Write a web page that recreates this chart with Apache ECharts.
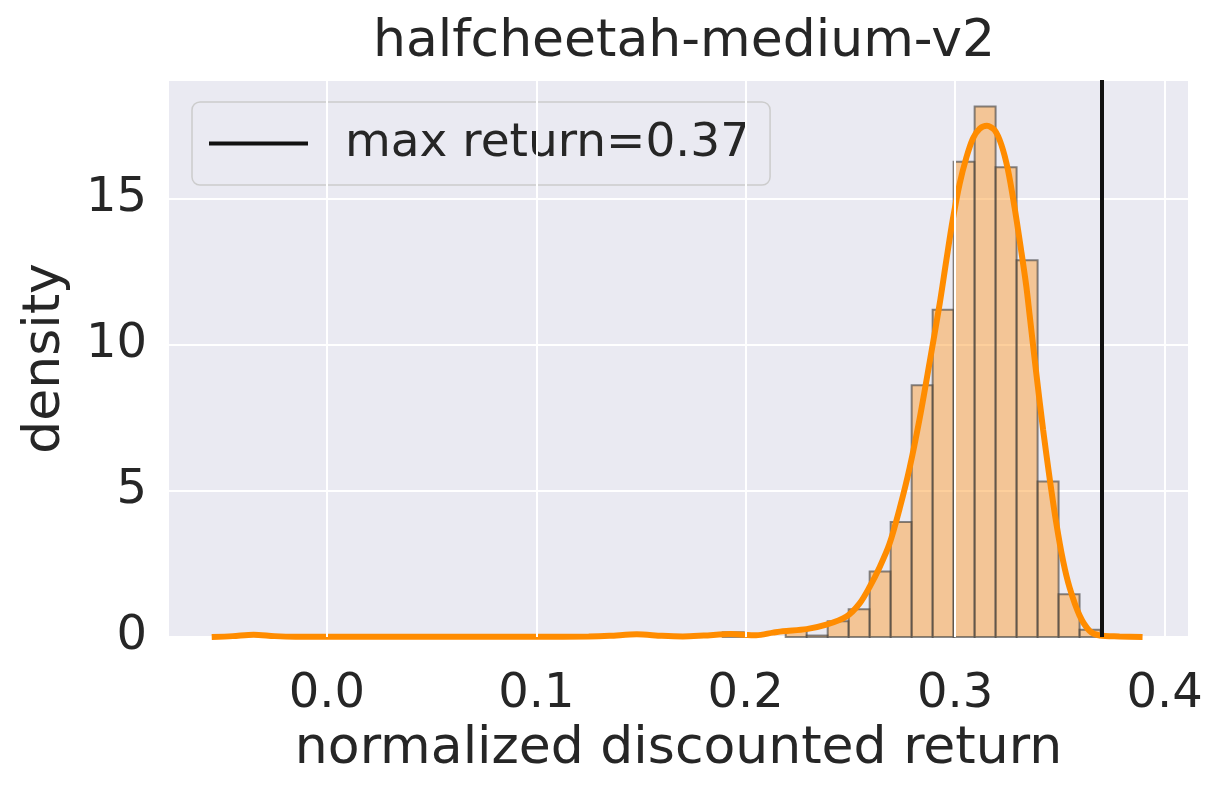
<!DOCTYPE html>
<html>
<head>
<meta charset="utf-8">
<script src="https://cdn.jsdelivr.net/npm/echarts@6/dist/echarts.min.js"></script>
<style>
html, body { margin: 0; padding: 0; background: #fff; }
#chart { width: 1225px; height: 794px; }
</style>
</head>
<body>
<div id="chart"></div>
<script>
// chart data
var chartTitle = 'halfcheetah-medium-v2';
var xName = 'normalized discounted return';
var yName = 'density';
var xTicks = [0.0, 0.1, 0.2, 0.3, 0.4];
var yTicks = [0, 5, 10, 15];

// histogram bins (left edge + density)
var binWidth = 0.01002;
var binLefts = [0.18902, 0.21909, 0.22912, 0.23914, 0.24916, 0.25919, 0.26921, 0.27924,
                0.28926, 0.29928, 0.30931, 0.31933, 0.32936, 0.33938, 0.34940, 0.35943];
var binHeights = [0.16, 0.22, 0.05, 0.54, 0.95, 2.24, 3.94, 8.62,
                  11.2, 16.27, 18.16, 16.08, 12.9, 5.32, 1.46, 0.25];

// kde curve
var kdeX = [-0.055, -0.045, -0.035, -0.025, -0.015, 0.0, 0.05, 0.1, 0.125, 0.135, 0.148, 0.16, 0.17,
            0.18, 0.193, 0.205, 0.213, 0.2177, 0.229, 0.2385, 0.2481, 0.2544, 0.2592, 0.264, 0.2687,
            0.2735, 0.2783, 0.2831, 0.2878, 0.2926, 0.2958, 0.2989, 0.3021, 0.3053, 0.3085, 0.3117,
            0.3152, 0.3189, 0.3221, 0.3252, 0.3284, 0.3316, 0.334, 0.3356, 0.3388, 0.342, 0.3451,
            0.3483, 0.3515, 0.3547, 0.3594, 0.3642, 0.369, 0.3785, 0.3895];
var kdeY = [0.0, 0.03, 0.08, 0.03, 0.01, 0.01, 0.01, 0.01, 0.02, 0.04, 0.09, 0.04, 0.02,
            0.05, 0.1, 0.06, 0.15, 0.2, 0.27, 0.42, 0.7, 1.15, 1.72, 2.4, 3.2,
            4.4, 5.8, 7.5, 9.4, 11.4, 12.9, 14.3, 15.5, 16.4, 17.07, 17.4,
            17.5, 17.35, 16.85, 16.0, 14.7, 13.2, 12.0, 11.0, 9.0, 7.1, 5.45,
            3.9, 2.62, 1.68, 0.74, 0.21, 0.05, 0.02, 0.0];

var maxReturn = 0.3695;
var maxLabel = 'max return=0.37';

var xMin = -0.0754, xMax = 0.4112;
var yMax = 19.07;

var chart = echarts.init(document.getElementById('chart'));

var bins = binLefts.map(function (l, i) {
    return [l, l + binWidth, binHeights[i]];
});
var kde = kdeX.map(function (x, i) {
    return [x, kdeY[i]];
});

var font = 'DejaVu Sans';
var ink = '#262626';

var option = {
    backgroundColor: '#fff',
    animation: false,
    title: {
        text: chartTitle,
        left: 679,
        textAlign: 'center',
        top: 11,
        textStyle: { fontFamily: font, fontSize: 52, fontWeight: 'normal', color: ink }
    },
    grid: {
        left: 169,
        right: 37,
        top: 80,
        bottom: 157,
        show: true,
        backgroundColor: '#eaeaf2',
        borderWidth: 0
    },
    legend: {
        data: [{ name: maxLabel, icon: 'rect' }],
        left: 192,
        top: 102,
        padding: [18, 20, 18, 17],
        itemWidth: 99,
        itemHeight: 4,
        backgroundColor: 'rgba(234,234,242,0.85)',
        borderColor: '#cccccc',
        borderWidth: 1.5,
        borderRadius: 8,
        itemStyle: { color: '#111111' },
        textStyle: { fontFamily: font, fontSize: 47, color: ink, padding: [0, 0, 0, 32] }
    },
    xAxis: {
        type: 'value',
        min: xMin,
        max: xMax,
        name: xName,
        nameLocation: 'middle',
        nameGap: 82,
        nameTextStyle: { fontFamily: font, fontSize: 52, color: ink },
        axisLine: { show: false },
        axisTick: { show: false },
        splitLine: { show: false },
        axisLabel: {
            customValues: xTicks,
            margin: 34,
            fontFamily: font,
            fontSize: 48,
            color: ink,
            formatter: function (v) { return v.toFixed(1); }
        }
    },
    yAxis: {
        type: 'value',
        min: 0,
        max: yMax,
        interval: 5,
        name: yName,
        nameLocation: 'middle',
        nameGap: 98,
        nameTextStyle: { fontFamily: font, fontSize: 52, color: ink },
        axisLine: { show: false },
        axisTick: { show: false },
        axisLabel: {
            showMaxLabel: false,
            margin: 22,
            fontFamily: font,
            fontSize: 48,
            color: ink
        },
        splitLine: { lineStyle: { color: '#ffffff', width: 2 } }
    },
    series: [
        {
            // vertical grid lines at the x ticks
            name: 'xgrid',
            type: 'scatter',
            data: [],
            z: 1,
            silent: true,
            markLine: {
                silent: true,
                symbol: 'none',
                label: { show: false },
                lineStyle: { color: '#ffffff', width: 2, type: 'solid' },
                data: xTicks.map(function (v) { return { xAxis: v }; })
            }
        },
        {
            name: 'hist',
            type: 'custom',
            z: 2,
            data: bins,
            encode: { x: [0, 1], y: 2 },
            renderItem: function (params, api) {
                var p0 = api.coord([api.value(0), api.value(2)]);
                var p1 = api.coord([api.value(1), 0]);
                return {
                    type: 'rect',
                    shape: { x: p0[0], y: p0[1], width: p1[0] - p0[0], height: p1[1] - p0[1] },
                    style: { fill: 'rgba(252,160,58,0.5)', stroke: 'rgba(60,60,60,0.6)', lineWidth: 2 }
                };
            }
        },
        {
            name: 'kde',
            type: 'line',
            z: 3,
            data: kde,
            smooth: 0.3,
            showSymbol: false,
            lineStyle: { color: '#ff8c00', width: 6 }
        },
        {
            name: maxLabel,
            type: 'line',
            z: 4,
            data: [],
            symbol: 'none',
            itemStyle: { color: '#111111' },
            lineStyle: { color: '#111111', width: 4 },
            markLine: {
                silent: true,
                symbol: 'none',
                label: { show: false },
                lineStyle: { color: '#111111', width: 4, type: 'solid' },
                data: [{ xAxis: maxReturn }]
            }
        }
    ]
};

chart.setOption(option);
</script>
</body>
</html>
